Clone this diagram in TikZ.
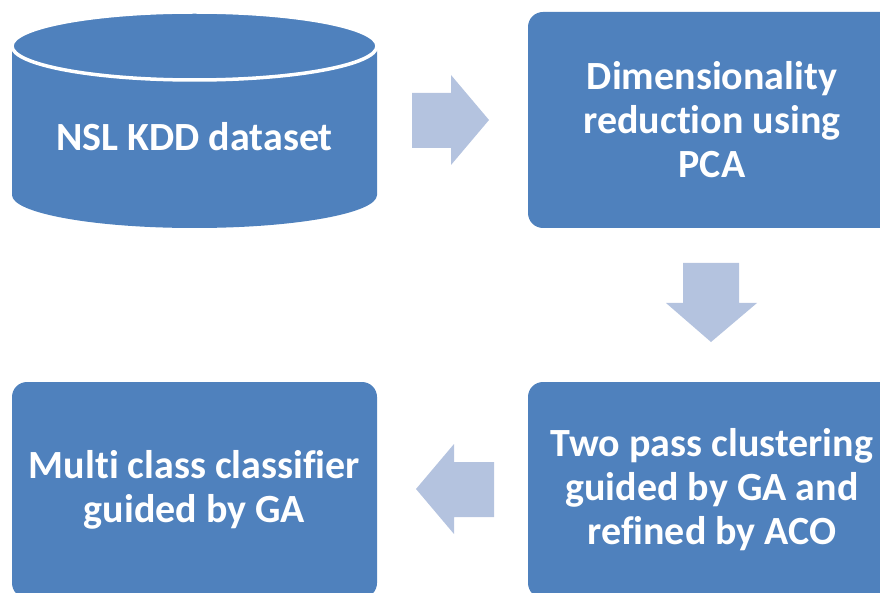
\documentclass[tikz,border=0pt]{standalone}
\usepackage{fontspec}
\setmainfont{Carlito}[Ligatures=NoCommon]
\definecolor{boxblue}{HTML}{4F81BD}
\definecolor{arrowblue}{HTML}{B4C3DF}
\begin{document}
\begin{tikzpicture}[x=1pt,y=-1pt,
  stepbox/.style={draw=none,fill=boxblue,rounded corners=15pt,minimum width=368pt,minimum height=216pt,inner sep=0pt},
  label/.style={text=white,font=\fontsize{40}{44}\selectfont\bfseries,align=center},
  blockarrow/.style={fill=arrowblue,draw=none}]
\useasboundingbox (0,0) rectangle (880,593);
\clip (0,0) rectangle (880,593);
% cylinder
\fill[boxblue] (12,46) -- (12,195) arc[start angle=180,end angle=360,x radius=182.5,y radius=-33] -- (377,46) -- cycle;
\filldraw[fill=boxblue,draw=white,line width=3.5pt] (194.5,46) ellipse[x radius=182.5, y radius=34];
\node[label] (nsl) at (194.5,137) {NSL KDD dataset};
% boxes
\node[stepbox] (pca) at (712,120) {};
\node[label] at (pca.center) {Dimensionality\\reduction using\\PCA};
\node[stepbox] (clu) at (712,490) {};
\node[label] at (clu.center) {Two pass clustering\\guided by GA and\\refined by ACO};
\node[stepbox,minimum width=365pt] (cls) at (194.5,490) {};
\node[label] at (cls.center) {Multi class classifier\\guided by GA};
% block arrows
\fill[blockarrow] (412,93) -- (451,93) -- (451,75) -- (489,120) -- (451,165) -- (451,148) -- (412,148) -- cycle;
\fill[blockarrow] (683,263) -- (739,263) -- (739,303) -- (757,303) -- (711,342) -- (666,303) -- (683,303) -- cycle;
\fill[blockarrow] (494,462) -- (454,462) -- (454,444) -- (416,489) -- (454,534) -- (454,517) -- (494,517) -- cycle;
\end{tikzpicture}
\end{document}
